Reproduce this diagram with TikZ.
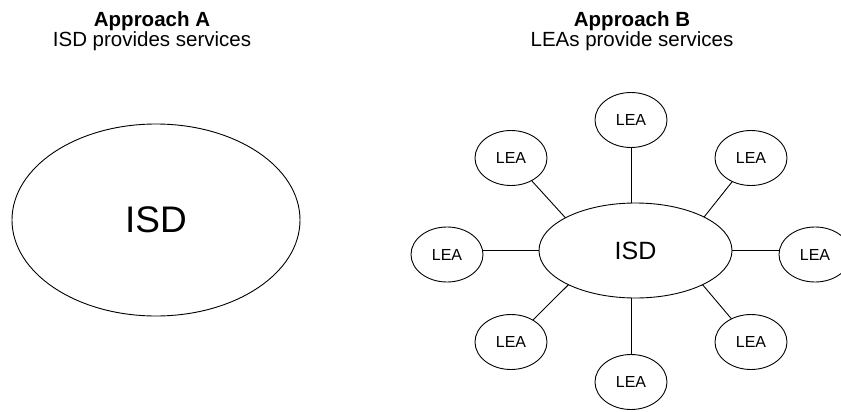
\documentclass[tikz,border=0pt]{standalone}
\usepackage{fontspec}
\setmainfont{Liberation Sans}
\usetikzlibrary{shapes.geometric}
\begin{document}
\begin{tikzpicture}[x=1pt,y=-1pt,
  every node/.style={inner sep=0pt, outer sep=0pt},
  bubble/.style={draw, ellipse, line width=0.9pt},
  lea/.style={bubble, minimum width=72pt, minimum height=55pt, font=\fontsize{16}{19}\selectfont},
  link/.style={line width=0.9pt},
  ttl/.style={anchor=base, font=\bfseries\fontsize{20.5}{24}\selectfont},
  sub/.style={anchor=base, font=\fontsize{20.5}{24}\selectfont}]
\useasboundingbox (0,0) rectangle (841,412);
\clip (0,0) rectangle (841,412);

% titles
\node[ttl] (ta) at (152,27) {Approach A};
\node[sub] (sa) at (152,46.5) {ISD provides services};
\node[ttl] (tb) at (632,27) {Approach B};
\node[sub] (sb) at (632,46.5) {LEAs provide services};

% approach A
\node[bubble, minimum width=288pt, minimum height=192pt, font=\fontsize{37}{44}\selectfont] (isdA) at (156,220) {ISD};

% approach B
\node[bubble, minimum width=193pt, minimum height=95pt, font=\fontsize{25}{30}\selectfont] (isd) at (635.5,250.5) {ISD};
\node[lea] (t)  at (631,120) {LEA};
\node[lea] (tl) at (511,158) {LEA};
\node[lea] (tr) at (751,158) {LEA};
\node[lea] (l)  at (447,254.5) {LEA};
\node[lea] (r)  at (815,254.5) {LEA};
\node[lea] (bl) at (511,342) {LEA};
\node[lea] (br) at (751,342) {LEA};
\node[lea] (b)  at (631,382) {LEA};

\draw[link] (t.south) -- (t.south |- isd.north);
\draw[link] (b.north) -- (b.north |- isd.south);
\draw[link] (isd.west) -- (isd.west -| l.east);
\draw[link] (isd.east) -- (isd.east -| r.west);
\draw[link] (tl) -- (isd.155);
\draw[link] (tr) -- (isd.26);
\draw[link] (bl) -- (isd.207);
\draw[link] (br) -- (isd.-27);
\end{tikzpicture}
\end{document}
